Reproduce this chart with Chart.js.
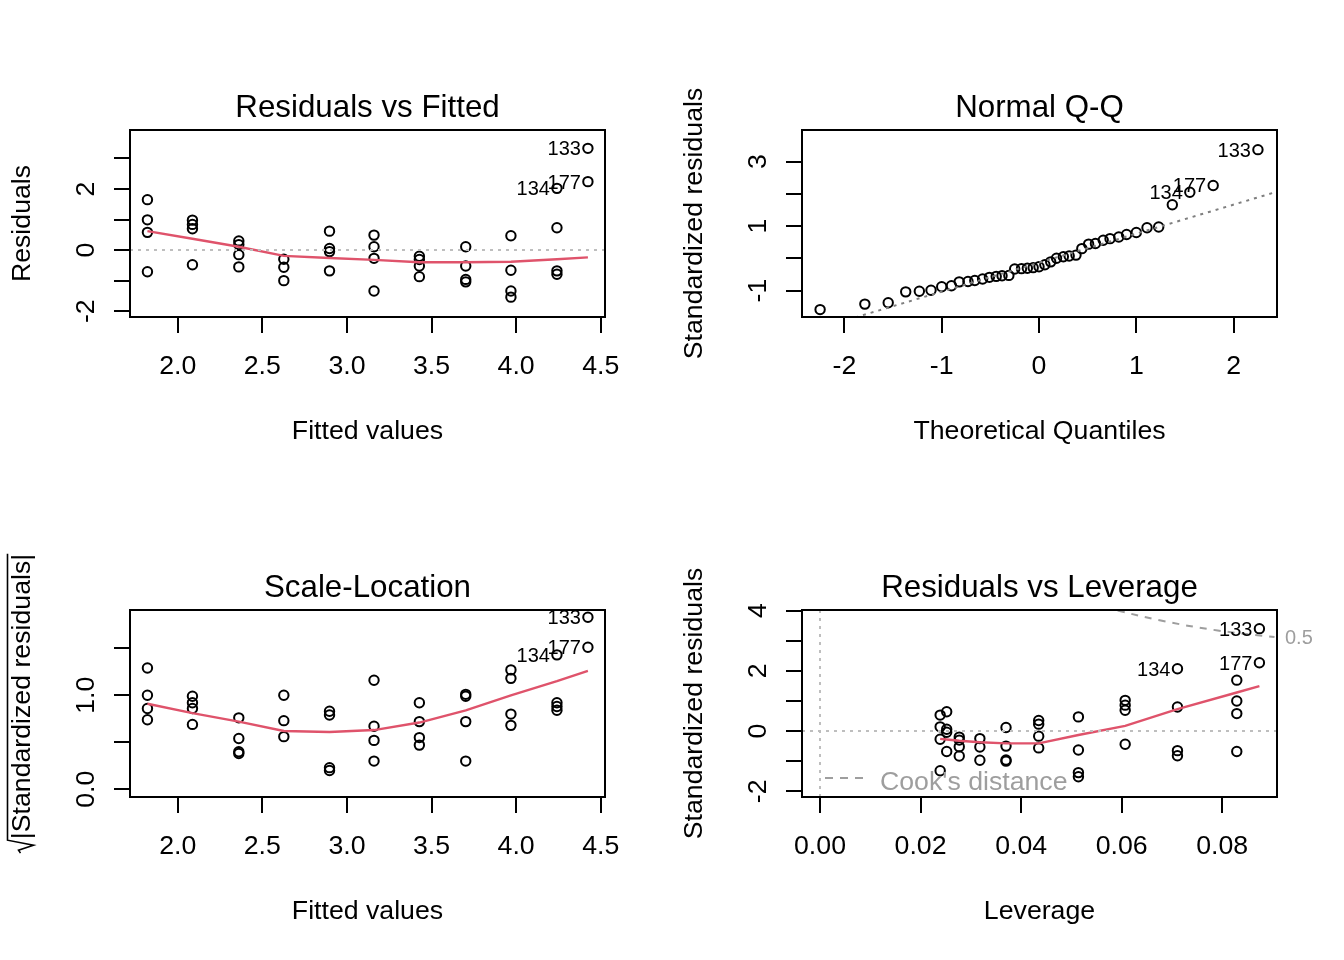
<!DOCTYPE html>
<html>
<head>
<meta charset="utf-8">
<script src="https://cdn.jsdelivr.net/npm/chart.js@4/dist/chart.umd.min.js"></script>
<style>
  body { margin: 0; background: #fff; }
  #wrap { position: relative; width: 1344px; height: 960px; }
  canvas { position: absolute; }
</style>
</head>
<body>
<div id="wrap">
  <canvas id="p1" width="672" height="480" style="left:0;top:0"></canvas>
  <canvas id="p2" width="672" height="480" style="left:672px;top:0"></canvas>
  <canvas id="p3" width="672" height="480" style="left:0;top:480px"></canvas>
  <canvas id="p4" width="672" height="480" style="left:672px;top:480px"></canvas>
</div>
<script>
// per observation, grouped by fitted value
const fitted = [1.821,1.821,1.821,1.821, 2.087,2.087,2.087,2.087, 2.361,2.361,2.361,2.361,
  2.627,2.627,2.627, 2.897,2.897,2.897,2.897, 3.160,3.160,3.160,3.160, 3.428,3.428,3.428,3.428,
  3.702,3.702,3.702,3.702, 3.969,3.969,3.969,3.969, 4.241,4.241,4.241,4.241, 4.424,4.424];
const residuals = [1.65,0.99,0.58,-0.71, 0.98,0.84,0.70,-0.48, 0.30,0.18,-0.15,-0.55,
  -0.30,-0.56,-1.00, 0.62,0.05,-0.05,-0.68, 0.49,0.11,-0.27,-1.34, -0.20,-0.31,-0.52,-0.87,
  0.11,-0.52,-0.96,-1.04, 0.47,-0.66,-1.34,-1.54, 2.02,0.73,-0.68,-0.79, 3.33,2.24];
const sqrtStdResid = [1.29,1.00,0.74,0.86, 0.99,0.92,0.86,0.69, 0.76,0.54,0.40,0.38,
  0.56,0.73,1.00, 0.83,0.23,0.20,0.79, 0.67,0.30,0.52,1.16, 0.92,0.55,0.72,0.47,
  1.01,0.99,0.72,0.30, 1.27,1.18,0.80,0.68, 1.43,0.92,0.88,0.84, 1.83,1.51];
const leverage = [0.0829,0.0829,0.0829,0.0829, 0.0607,0.0607,0.0607,0.0607, 0.0435,0.0435,0.0435,0.0435,
  0.0318,0.0318,0.0318, 0.0252,0.0252,0.0252,0.0252, 0.0239,0.0239,0.0239,0.0239, 0.0277,0.0277,0.0277,0.0277,
  0.0370,0.0370,0.0370,0.0370, 0.0514,0.0514,0.0514,0.0514, 0.0711,0.0711,0.0711,0.0711, 0.0874,0.0874];
const stdResid = [1.69,1.00,0.58,-0.68, 1.02,0.86,0.69,-0.44, 0.35,0.23,-0.17,-0.56,
  -0.25,-0.53,-0.97, 0.64,0.06,-0.04,-0.68, 0.53,0.14,-0.27,-1.32, -0.20,-0.30,-0.52,-0.83,
  0.12,-0.50,-0.96,-1.00, 0.47,-0.63,-1.38,-1.52, 2.07,0.80,-0.65,-0.82, 3.40,2.27];

// normal Q-Q
const qqTheo = [-2.25,-1.79,-1.55,-1.37,-1.23,-1.11,-1.00,-0.90,-0.82,-0.73,-0.66,-0.58,-0.51,-0.44,
  -0.38,-0.31,-0.25,-0.18,-0.12,-0.06,0.00,0.06,0.12,0.18,0.25,0.31,0.38,0.44,0.51,0.58,0.66,
  0.73,0.82,0.90,1.00,1.11,1.23,1.37,1.55,1.79,2.25];
const qqSample = [-1.59,-1.42,-1.38,-1.04,-1.02,-0.99,-0.88,-0.85,-0.73,-0.72,-0.69,-0.64,-0.59,-0.56,
  -0.54,-0.53,-0.33,-0.32,-0.31,-0.29,-0.26,-0.20,-0.11,0.00,0.05,0.07,0.10,0.30,0.44,0.46,0.56,
  0.61,0.66,0.74,0.80,0.95,0.97,1.66,2.05,2.26,3.37];
const qqLineX = [-2.44, 2.45];
const qqLineY = [-2.33, 2.07];

// smoothers (red lines)
const fitLevels = [1.821,2.087,2.361,2.627,2.897,3.160,3.428,3.702,3.969,4.241,4.424];
const residSmooth = [0.62,0.37,0.11,-0.19,-0.26,-0.32,-0.40,-0.40,-0.38,-0.30,-0.24];
const scaleSmooth = [0.91,0.81,0.72,0.62,0.61,0.63,0.71,0.84,1.00,1.15,1.26];
const levLevels = [0.0239,0.0252,0.0277,0.0318,0.0370,0.0435,0.0514,0.0607,0.0711,0.0829,0.0874];
const levSmooth = [-0.26,-0.28,-0.32,-0.37,-0.41,-0.41,-0.13,0.17,0.73,1.28,1.49];

// Cook's distance 0.5 contour
const cookX = [0.0592, 0.0678, 0.0791, 0.0904];
const cookY = [4.00, 3.67, 3.34, 3.12];

// labelled points
const idNames = ['134', '133', '177'];
const idObs = [35, 39, 40];
const idQQ = [38, 40, 39];

// ticks
const fitTicks = [2.0, 2.5, 3.0, 3.5, 4.0, 4.5];
const fitTickLabels = ['2.0', '2.5', '3.0', '3.5', '4.0', '4.5'];
const residTicks = [-2, -1, 0, 1, 2, 3];
const residTickLabels = ['-2', '', '0', '', '2', ''];
const qqXTicks = [-2, -1, 0, 1, 2];
const qqXTickLabels = ['-2', '-1', '0', '1', '2'];
const qqYTicks = [-1, 0, 1, 2, 3];
const qqYTickLabels = ['-1', '', '1', '', '3'];
const slTicks = [0, 0.5, 1, 1.5];
const slTickLabels = ['0.0', '', '1.0', ''];
const levXTicks = [0, 0.02, 0.04, 0.06, 0.08];
const levXTickLabels = ['0.00', '0.02', '0.04', '0.06', '0.08'];
const levYTicks = [-2, -1, 0, 1, 2, 3, 4];
const levYTickLabels = ['-2', '', '0', '', '2', '', '4'];

const FONT = '"Liberation Sans", Arial, Helvetica, sans-serif';
const RED = '#DF536B';
const GREY = '#BEBEBE';
const GREY50 = '#7F7F7F';
const COOK = '#9E9E9E';

function pts(xs, ys) {
  return xs.map((x, i) => ({ x: x, y: ys[i] }));
}

function drawText(ctx, s, x, y, size, align, color, rot) {
  ctx.save();
  ctx.translate(x, y);
  if (rot) ctx.rotate(-Math.PI / 2);
  ctx.font = size + 'px ' + FONT;
  ctx.fillStyle = color || '#000';
  ctx.textAlign = align || 'center';
  ctx.textBaseline = 'alphabetic';
  ctx.fillText(s, 0, 0);
  ctx.restore();
}

// R base graphics look: box, outward ticks, rotated y labels, titles
const rBase = {
  id: 'rBase',
  afterDraw(chart, args, o) {
    const ctx = chart.ctx;
    const a = chart.chartArea;
    const xs = chart.scales.x, ys = chart.scales.y;
    ctx.save();
    ctx.strokeStyle = '#000';
    ctx.lineWidth = 2;
    ctx.setLineDash([]);
    ctx.strokeRect(a.left, a.top, a.right - a.left, a.bottom - a.top);
    ctx.beginPath();
    o.xTicks.forEach(v => {
      const px = Math.round(xs.getPixelForValue(v));
      ctx.moveTo(px, a.bottom); ctx.lineTo(px, a.bottom + 16);
    });
    o.yTicks.forEach(v => {
      const py = Math.round(ys.getPixelForValue(v));
      ctx.moveTo(a.left, py); ctx.lineTo(a.left - 16, py);
    });
    ctx.stroke();
    ctx.restore();

    o.xTicks.forEach((v, i) => {
      if (o.xLabels[i]) drawText(ctx, o.xLabels[i], xs.getPixelForValue(v), a.bottom + 57, 26.7);
    });
    o.yTicks.forEach((v, i) => {
      if (o.yLabels[i]) drawText(ctx, o.yLabels[i], a.left - 36, ys.getPixelForValue(v), 26.7, 'center', '#000', true);
    });

    const cx = (a.left + a.right) / 2, cy = (a.top + a.bottom) / 2;
    drawText(ctx, o.title, cx, a.top - 13, 31.3);
    drawText(ctx, o.xTitle, cx, a.bottom + 122, 26.7);

    if (o.sqrtTitle) {
      ctx.save();
      ctx.translate(a.left - 100.5, cy);
      ctx.rotate(-Math.PI / 2);
      ctx.font = '26.7px ' + FONT;
      const w = ctx.measureText(o.yTitle).width;
      const rw = 14;
      const x0 = -(w + rw) / 2;
      ctx.strokeStyle = '#000';
      ctx.lineWidth = 1.6;
      ctx.beginPath();
      ctx.moveTo(x0, -9);
      ctx.lineTo(x0 + 3, -11);
      ctx.lineTo(x0 + 8, 4);
      ctx.lineTo(x0 + rw - 1, -22);
      ctx.lineTo(x0 + rw + w, -22);
      ctx.stroke();
      ctx.fillStyle = '#000';
      ctx.textAlign = 'left';
      ctx.fillText(o.yTitle, x0 + rw, 0);
      ctx.restore();
    } else {
      drawText(ctx, o.yTitle, a.left - 100.5, cy, 26.7, 'center', '#000', true);
    }

    // identified points
    o.ids.forEach(p => {
      drawText(ctx, p.t, xs.getPixelForValue(p.x) - 7, ys.getPixelForValue(p.y) + 7, 20, 'right');
    });

    if (o.cook) {
      ctx.save();
      ctx.strokeStyle = COOK;
      ctx.lineWidth = 2;
      ctx.setLineDash([8, 7]);
      ctx.beginPath();
      ctx.moveTo(a.left + 23, a.bottom - 19);
      ctx.lineTo(a.left + 65, a.bottom - 19);
      ctx.stroke();
      ctx.restore();
      drawText(ctx, "Cook's distance", a.left + 78, a.bottom - 7, 26.7, 'left', COOK);
      const last = cookY.length - 1;
      drawText(ctx, '0.5', a.right + 8, ys.getPixelForValue(cookY[last]) + 7, 20, 'left', COOK);
    }
  }
};

function pointSet(data) {
  return {
    data: data, order: 3,
    pointRadius: 4.7, pointBorderWidth: 2,
    pointBorderColor: '#000', pointBackgroundColor: 'rgba(0,0,0,0)',
    showLine: false
  };
}

function lineSet(data, color, dash, order, width) {
  return {
    data: data, order: order, showLine: true, pointRadius: 0,
    borderColor: color, borderWidth: width || 2, borderDash: dash || [], tension: 0
  };
}

function makeChart(id, datasets, bounds, plot) {
  return new Chart(document.getElementById(id), {
    type: 'scatter',
    data: { datasets: datasets },
    options: {
      responsive: false,
      animation: false,
      events: [],
      layout: { padding: { left: 130, right: 67, top: 130, bottom: 163 } },
      scales: {
        x: { type: 'linear', display: false, min: bounds[0], max: bounds[1] },
        y: { type: 'linear', display: false, min: bounds[2], max: bounds[3] }
      },
      plugins: { legend: { display: false }, tooltip: { enabled: false }, rBase: plot }
    },
    plugins: [rBase]
  });
}

function idsFrom(xsArr, ysArr, idx) {
  return idx.map((k, i) => ({ t: idNames[i], x: xsArr[k], y: ysArr[k] }));
}

// Residuals vs Fitted
const b1 = [1.718, 4.525, -2.19, 3.93];
makeChart('p1', [
  pointSet(pts(fitted, residuals)),
  lineSet(pts(fitLevels, residSmooth), RED, [], 2, 2.4),
  lineSet(pts([b1[0], b1[1]], [0, 0]), GREY, [3, 5], 1)
], b1, {
  title: 'Residuals vs Fitted', xTitle: 'Fitted values', yTitle: 'Residuals',
  xTicks: fitTicks, xLabels: fitTickLabels, yTicks: residTicks, yLabels: residTickLabels,
  ids: idsFrom(fitted, residuals, idObs)
});

// Normal Q-Q
const b2 = [-2.436, 2.446, -1.82, 3.98];
makeChart('p2', [
  pointSet(pts(qqTheo, qqSample)),
  lineSet(pts(qqLineX, qqLineY), GREY50, [3, 5], 1)
], b2, {
  title: 'Normal Q-Q', xTitle: 'Theoretical Quantiles', yTitle: 'Standardized residuals',
  xTicks: qqXTicks, xLabels: qqXTickLabels, yTicks: qqYTicks, yLabels: qqYTickLabels,
  ids: idsFrom(qqTheo, qqSample, idQQ)
});

// Scale-Location
const b3 = [1.718, 4.525, -0.082, 1.907];
makeChart('p3', [
  pointSet(pts(fitted, sqrtStdResid)),
  lineSet(pts(fitLevels, scaleSmooth), RED, [], 2, 2.4)
], b3, {
  title: 'Scale-Location', xTitle: 'Fitted values', yTitle: '|Standardized residuals|', sqrtTitle: true,
  xTicks: fitTicks, xLabels: fitTickLabels, yTicks: slTicks, yLabels: slTickLabels,
  ids: idsFrom(fitted, sqrtStdResid, idObs)
});

// Residuals vs Leverage
const b4 = [-0.00358, 0.0909, -2.19, 4.02];
makeChart('p4', [
  pointSet(pts(leverage, stdResid)),
  lineSet(pts(levLevels, levSmooth), RED, [], 2, 2.4),
  lineSet(pts([b4[0], b4[1]], [0, 0]), GREY, [3, 5], 1),
  lineSet(pts([0, 0], [b4[2], b4[3]]), GREY, [3, 5], 1),
  Object.assign(lineSet(pts(cookX, cookY), COOK, [7, 7], 1), { tension: 0.4 })
], b4, {
  title: 'Residuals vs Leverage', xTitle: 'Leverage', yTitle: 'Standardized residuals',
  xTicks: levXTicks, xLabels: levXTickLabels, yTicks: levYTicks, yLabels: levYTickLabels,
  ids: idsFrom(leverage, stdResid, idObs), cook: true
});
</script>
</body>
</html>
